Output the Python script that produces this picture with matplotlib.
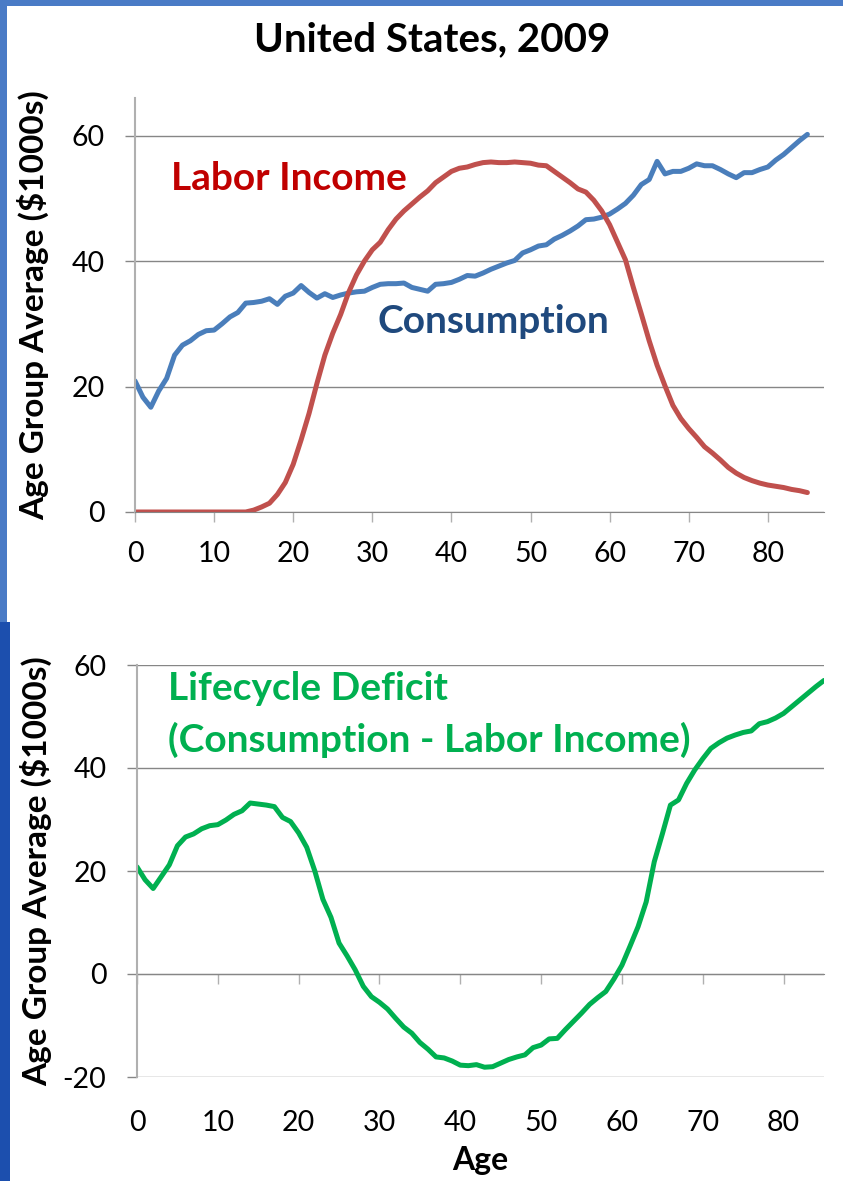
import matplotlib
matplotlib.use("Agg")
import matplotlib.pyplot as plt
from matplotlib.patches import Rectangle
import numpy as np

plt.rcParams["font.family"] = ["Lato", "DejaVu Sans"]
plt.rcParams["axes.unicode_minus"] = False

# Per-capita age profiles, United States 2009 ($1000s), ages 0..85
ages = np.arange(0, 86)

consumption = [
    20.9, 18.3, 16.7, 19.3, 21.3, 25.0, 26.6, 27.3, 28.3, 28.9,
    29.0, 30.0, 31.1, 31.8, 33.3, 33.4, 33.6, 34.0, 33.1, 34.4,
    34.9, 36.1, 35.0, 34.1, 34.8, 34.2, 34.6, 34.9, 35.1, 35.2,
    35.8, 36.3, 36.4, 36.4, 36.5, 35.8, 35.5, 35.2, 36.3, 36.4,
    36.6, 37.1, 37.7, 37.6, 38.1, 38.7, 39.2, 39.7, 40.1, 41.3,
    41.8, 42.4, 42.6, 43.5, 44.1, 44.8, 45.6, 46.6, 46.7, 47.0,
    47.5, 48.3, 49.2, 50.5, 52.2, 53.0, 55.9, 53.9, 54.3, 54.3,
    54.8, 55.5, 55.2, 55.2, 54.6, 53.9, 53.3, 54.1, 54.1, 54.6,
    55.0, 56.1, 57.0, 58.1, 59.2, 60.2,
]

labor_income = [
    0, 0, 0, 0, 0, 0, 0, 0, 0, 0,
    0, 0, 0, 0, 0, 0.3, 0.8, 1.4, 2.8, 4.7,
    7.6, 11.5, 15.7, 20.5, 25.0, 28.5, 31.5, 35.0, 37.8, 40.0,
    41.8, 43.0, 45.0, 46.7, 48.0, 49.1, 50.2, 51.2, 52.5, 53.4,
    54.3, 54.8, 55.0, 55.4, 55.7, 55.8, 55.7, 55.7, 55.8, 55.7,
    55.6, 55.3, 55.2, 54.3, 53.4, 52.5, 51.5, 51.0, 49.7, 48.0,
    45.8, 43.0, 40.2, 35.8, 31.6, 27.3, 23.4, 20.1, 17.0, 14.9,
    13.3, 11.9, 10.4, 9.4, 8.3, 7.1, 6.2, 5.5, 5.0, 4.6,
    4.3, 4.1, 3.9, 3.6, 3.4, 3.1,
]

lifecycle_deficit = [
    20.8, 18.3, 16.6, 18.9, 21.2, 24.9, 26.6, 27.2, 28.2, 28.8,
    29.0, 29.9, 31.0, 31.7, 33.2, 33.0, 32.8, 32.5, 30.4, 29.6,
    27.4, 24.6, 20.0, 14.5, 11.0, 6.0, 3.5, 0.8, -2.4, -4.4,
    -5.5, -6.8, -8.6, -10.3, -11.5, -13.3, -14.6, -16.1, -16.3, -16.9,
    -17.7, -17.8, -17.6, -18.1, -18.0, -17.3, -16.6, -16.1, -15.7, -14.3,
    -13.8, -12.6, -12.5, -10.8, -9.2, -7.6, -5.9, -4.6, -3.4, -1.0,
    1.7, 5.4, 9.2, 14.0, 21.8, 27.2, 32.8, 33.8, 37.0, 39.6,
    41.8, 43.8, 44.9, 45.8, 46.4, 46.9, 47.2, 48.6, 49.0, 49.7,
    50.6, 51.9, 53.2, 54.5, 55.8, 57.0,
]

x_ticks = list(range(0, 90, 10))
top_y_ticks = [0, 20, 40, 60]
bottom_y_ticks = [-20, 0, 20, 40, 60]

W, H = 843, 1181
fig = plt.figure(figsize=(W / 100, H / 100), dpi=100, facecolor="#4a7bc6")

# slide-like white panels on a blue background (drawn beneath the axes)
for xy, w, h, c in [((0, 0), 10 / W, 559 / H, "#1c4fae"),
                    ((7 / W, 1 - 622 / H), (W - 7) / W, 616 / H, "white"),
                    ((10 / W, 0), (W - 10) / W, 559 / H, "white")]:
    fig.patches.append(Rectangle(xy, w, h, transform=fig.transFigure,
                                 facecolor=c, edgecolor="none", zorder=-10))

grid_c = "#868686"
spine_c = "#b0b0b0"


def style_axes(ax, yticks):
    ax.set_facecolor("none")
    for s in ["top", "right", "bottom"]:
        ax.spines[s].set_visible(False)
    ax.spines["left"].set_color(spine_c)
    ax.spines["left"].set_linewidth(1.5)
    ax.set_yticks(yticks)
    ax.yaxis.grid(True, color=grid_c, linewidth=1.0)
    ax.set_axisbelow(True)
    ax.tick_params(axis="y", length=7, width=1.0, color=grid_c, pad=15,
                   labelsize=20.5)
    ax.set_ylabel("Age Group Average ($1000s)", fontsize=24, fontweight="bold")


# ---- top panel: consumption and labor income
ax1 = fig.add_axes([135 / W, 1 - 512 / H, 689 / W, 414 / H])
ax1.plot(ages, consumption, color="#4a7ebb", linewidth=3.6, solid_capstyle="round")
ax1.plot(ages, labor_income, color="#c0504d", linewidth=3.6, solid_capstyle="round")
ax1.set_xlim(0, 87.1)
ax1.set_ylim(0, 66)
style_axes(ax1, top_y_ticks)
ax1.spines["bottom"].set_visible(True)
ax1.spines["bottom"].set_color(grid_c)
ax1.set_xticks(x_ticks)
ax1.tick_params(axis="x", length=7, width=1.0, color=spine_c, pad=14,
                labelsize=20.5)
ax1.yaxis.set_label_coords(-0.125, 0.5)
ax1.text(4.6, 53.2, "Labor Income", color="#c00000", fontsize=28,
         fontweight="bold", va="center", ha="left")
ax1.text(30.6, 30.3, "Consumption", color="#1f497d", fontsize=28,
         fontweight="bold", va="center", ha="left")
fig.text(432 / W, 1 - 40 / H, "United States, 2009", fontsize=29,
         fontweight="bold", ha="center", va="center")

# ---- bottom panel: lifecycle deficit
ax2 = fig.add_axes([137 / W, 1 - 1077 / H, 687 / W, 412 / H])
ax2.plot(ages, lifecycle_deficit, color="#00b050", linewidth=3.6,
         solid_capstyle="round")
ax2.set_xlim(0, 85)
ax2.set_ylim(-20, 60)
style_axes(ax2, bottom_y_ticks)
ax2.set_xticks(x_ticks)
ax2.tick_params(axis="x", length=0, pad=24, labelsize=20.5)
ax2.yaxis.set_label_coords(-0.124, 0.5)
ax2.set_xlabel("Age", fontsize=23, fontweight="bold", labelpad=7)

# horizontal axis crossing at zero, with tick marks there
sec = ax2.secondary_xaxis(0.25)
sec.set_xticks(x_ticks)
sec.spines["bottom"].set_color(grid_c)
sec.tick_params(axis="x", length=7, width=1.0, color=spine_c, labelbottom=False)

ax2.text(3.8, 55.5, "Lifecycle Deficit", color="#00b050", fontsize=28,
         fontweight="bold", va="center", ha="left")
ax2.text(3.8, 45.4, "(Consumption - Labor Income)", color="#00b050", fontsize=28,
         fontweight="bold", va="center", ha="left")

fig.savefig("out.png", dpi=100, facecolor=fig.get_facecolor())
